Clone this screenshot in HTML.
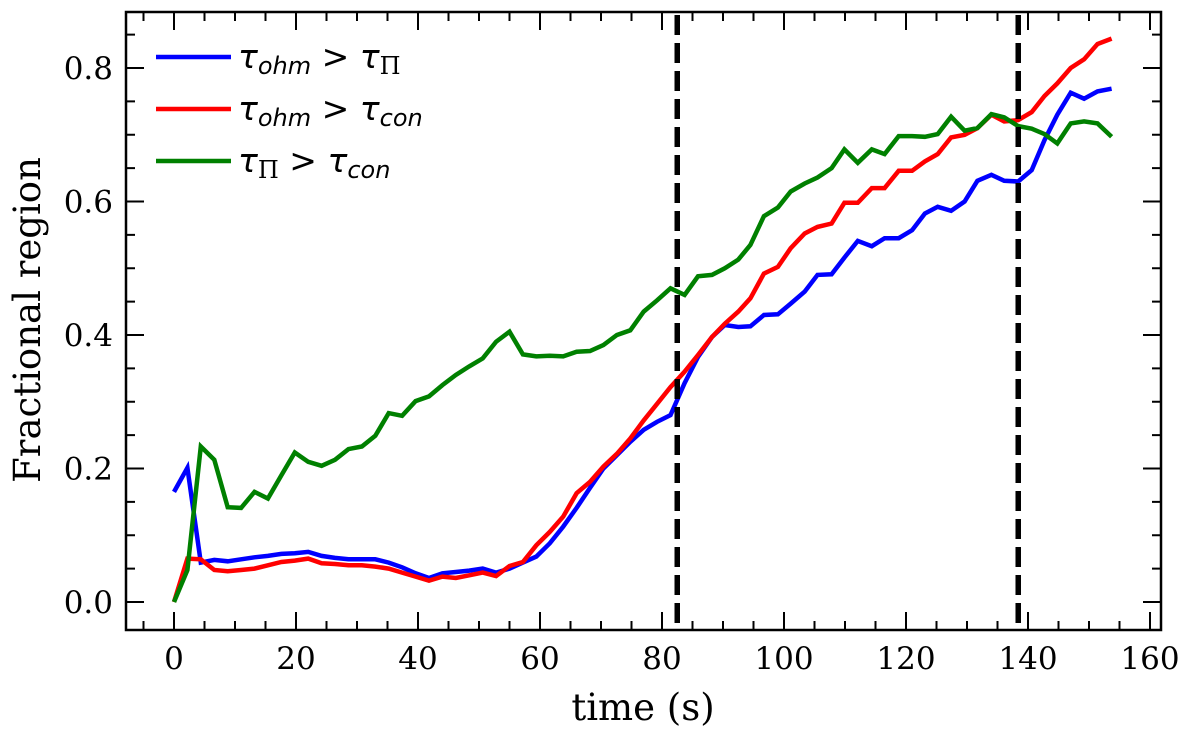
<!DOCTYPE html>
<html><head><meta charset="utf-8"><style>
html,body{margin:0;padding:0;background:#fff}
svg{display:block;font-family:"DejaVu Serif","Liberation Serif",serif}
</style></head><body>
<svg id="chart" width="1200" height="731" viewBox="0 0 1200 731" xmlns="http://www.w3.org/2000/svg">
<g id="series"></g>
<g id="axes"></g>
<g id="legend"></g>
</svg>
<script>
const times=[0,2.2,4.4,6.6,8.8,11,13.2,15.4,17.6,19.8,22,24.2,26.4,28.6,30.8,33,35.2,37.4,39.6,41.8,44,46.2,48.4,50.6,52.8,55,57.2,59.4,61.6,63.8,66,68.2,70.4,72.6,74.8,77,79.2,
81.4,83.7,85.9,88.2,90.3,92.5,94.5,96.7,99.0,101.1,103.4,105.5,107.8,109.9,112.1,114.4,116.5,118.8,121.0,123.1,125.2,127.4,129.6,131.7,134.0,136.1,138.4,140.6,142.7,144.8,147.0,149.2,151.4,153.7];
const ohmPi=[.165,.201,.059,.063,.061,.064,.067,.069,.072,.073,.075,.069,.066,.064,.064,.064,.059,.052,.043,.036,.043,.045,.047,.050,.044,.050,.059,.068,.088,.113,.141,.171,.20,.22,.24,.258,.27,
.280,.328,.367,.397,.415,.412,.413,.430,.431,.447,.465,.490,.491,.516,.541,.533,.545,.545,.557,.582,.592,.586,.600,.631,.640,.631,.630,.647,.692,.730,.763,.754,.765,.769];
const ohmCon=[0,.065,.064,.048,.046,.048,.050,.055,.060,.062,.065,.058,.057,.055,.055,.053,.050,.044,.038,.032,.038,.036,.040,.044,.039,.054,.060,.085,.105,.128,.163,.180,.203,.222,.245,.272,.297,
.322,.345,.370,.397,.417,.435,.455,.492,.502,.530,.552,.562,.567,.598,.598,.620,.620,.646,.646,.660,.671,.696,.700,.710,.730,.720,.722,.734,.758,.777,.800,.813,.836,.844];
const piCon=[0,.048,.233,.213,.142,.141,.165,.155,.190,.224,.210,.204,.213,.229,.233,.249,.283,.279,.301,.308,.325,.34,.353,.365,.39,.405,.371,.368,.369,.368,.375,.376,.385,.40,.407,.435,.452,
.470,.460,.488,.490,.500,.513,.535,.578,.591,.615,.627,.636,.650,.678,.658,.678,.671,.698,.698,.697,.701,.727,.706,.710,.731,.726,.713,.709,.701,.687,.717,.720,.717,.697];
const xTicks=[0,20,40,60,80,100,120,140,160];
const yTicks=[0.0,0.2,0.4,0.6,0.8];
const vLines=[82.5,138.4];

const NS="http://www.w3.org/2000/svg";
const L=126,R=1161,T=12,B=630;
function X(t){return 174+t*6.1;}
function Y(v){return 602-v*667.5;}
function mk(tag,attrs,parent){const e=document.createElementNS(NS,tag);for(const k in attrs)e.setAttribute(k,attrs[k]);parent.appendChild(e);return e;}
const ser=document.getElementById('series'),ax=document.getElementById('axes'),lg=document.getElementById('legend');

function line(vals,color,name){
  const d=vals.map((v,i)=>(i?'L':'M')+X(times[i]).toFixed(1)+' '+Y(v).toFixed(1)).join(' ');
  const p=mk('path',{d:d,fill:'none',stroke:color,'stroke-width':4.5,'stroke-linejoin':'miter'},ser);
  
  
}
line(ohmPi,'#0000ff','series-ohm-gt-pi');
line(ohmCon,'#ff0000','series-ohm-gt-con');
line(piCon,'#008000','series-pi-gt-con');
vLines.forEach((t,i)=>{
  const l=mk('line',{x1:X(t),x2:X(t),y1:T+3,y2:B,stroke:'#000','stroke-width':5.5,'stroke-dasharray':'20 8'},ser);
  
  
});

const fr=mk('rect',{x:L,y:T,width:R-L,height:B-T,fill:'none',stroke:'#000','stroke-width':2.5},ax);


let tp='';
for(let t=-5;t<=160;t+=5){const x=X(t);if(x<L||x>R)continue;const len=(t%20===0)?18:9;tp+=`M${x} ${B}V${B-len}M${x} ${T}V${T+len}`;}
for(let k=-1;k<=17;k++){const v=k*0.05;const y=Y(v);if(y<T||y>B)continue;const len=(k%4===0)?18:9;tp+=`M${L} ${y}H${L+len}M${R} ${y}H${R-len}`;}
const tk=mk('path',{d:tp,stroke:'#000','stroke-width':2,fill:'none'},ax);


xTicks.forEach(t=>{
  const e=mk('text',{x:X(t),y:669,'text-anchor':'middle','font-size':31},ax);e.textContent=t;
  
  
});
yTicks.forEach(v=>{
  const e=mk('text',{x:113,y:Y(v)+11,'text-anchor':'end','font-size':31},ax);e.textContent=v.toFixed(1);
  
  
});
const xt=mk('text',{x:643,y:720,'text-anchor':'middle','font-size':37},ax);xt.textContent='time (s)';


const yt=mk('text',{x:0,y:0,'text-anchor':'middle','font-size':37,transform:'translate(40,320) rotate(-90)'},ax);yt.textContent='Fractional region';



const entries=[['#0000ff','ohm','Π',57],['#ff0000','ohm','con',109],['#008000','Π','con',161]];
entries.forEach((en,i)=>{
  const g=mk('g',{},lg);
  
  
  mk('line',{x1:156,x2:231,y1:en[3],y2:en[3],stroke:en[0],'stroke-width':4.5},g);
  const t=mk('text',{x:238,y:en[3]+11,'font-size':33,'font-family':'DejaVu Sans, sans-serif'},g);
  t.innerHTML=`<tspan font-style="italic">τ</tspan><tspan font-size="24" dy="6" font-style="${en[1]==='Π'?'normal':'italic'}" font-family="${en[1]==='Π'?'DejaVu Serif':'DejaVu Sans'}">${en[1]}</tspan><tspan dy="-6"> &gt; </tspan><tspan font-style="italic">τ</tspan><tspan font-size="24" dy="6" font-style="${en[2]==='Π'?'normal':'italic'}" font-family="${en[2]==='Π'?'DejaVu Serif':'DejaVu Sans'}">${en[2]}</tspan>`;
});
</script>
</body></html>
